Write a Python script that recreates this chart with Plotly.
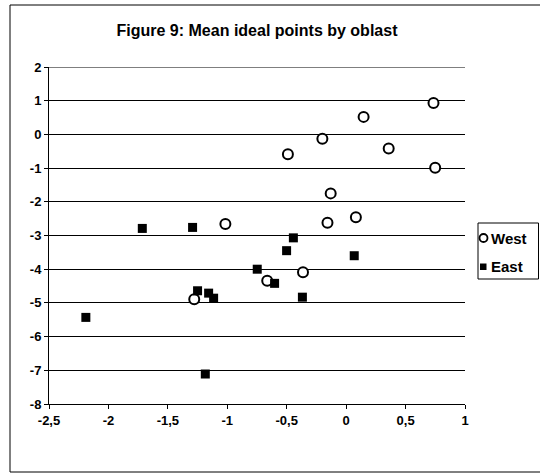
import plotly.graph_objects as go

west_x = [0.735, 0.147, -0.20, -0.49, 0.358, 0.749, -0.13, -0.157, 0.082, -1.016, -0.363, -1.278, -0.664]
west_y = [0.93, 0.52, -0.13, -0.59, -0.42, -0.99, -1.75, -2.62, -2.46, -2.66, -4.09, -4.89, -4.34]

east_x = [-1.715, -1.292, -0.444, -0.501, 0.068, -0.602, -0.368, -0.748, -1.25, -1.157, -1.115, -2.19, -1.185]
east_y = [-2.79, -2.76, -3.07, -3.45, -3.60, -4.42, -4.83, -4.00, -4.64, -4.71, -4.86, -5.43, -7.11]

series_names = ["West", "East"]

x_ticks = [-2.5, -2, -1.5, -1, -0.5, 0, 0.5, 1]
x_tick_labels = ["-2,5", "-2", "-1,5", "-1", "-0,5", "0", "0,5", "1"]
y_ticks = [2, 1, 0, -1, -2, -3, -4, -5, -6, -7, -8]

title = "Figure 9: Mean ideal points by oblast"

font_family = "Liberation Sans, Arial, sans-serif"

fig = go.Figure()
fig.add_trace(go.Scatter(
    x=west_x, y=west_y, mode="markers", name=series_names[0],
    marker=dict(symbol="circle", size=10, color="white", line=dict(color="black", width=2)),
))
fig.add_trace(go.Scatter(
    x=east_x, y=east_y, mode="markers", name=series_names[1],
    marker=dict(symbol="square", size=9, color="black", line=dict(color="black", width=0)),
))

W, H = 540, 474
L, R, T, B = 49, 75, 67, 70
pw, ph = W - L - R, H - T - B

def px_x(px):
    return (px - L) / pw

def px_y(py):
    return (H - B - py) / ph

bold = dict(family=font_family, weight=700, color="black")

shapes = [
    # outer chart frame
    dict(type="rect", xref="paper", yref="paper",
         x0=px_x(10), x1=px_x(548), y0=px_y(472), y1=px_y(5),
         line=dict(color="black", width=1), fillcolor="rgba(0,0,0,0)", layer="below"),
    # top gridline at y=2 (plotly omits grid at the range edge)
    dict(type="line", xref="paper", yref="y", x0=0, x1=1, y0=y_ticks[0], y1=y_ticks[0],
         line=dict(color="black", width=1), layer="below"),
    # legend box
    dict(type="rect", xref="paper", yref="paper",
         x0=px_x(478), x1=px_x(538.5), y0=px_y(279), y1=px_y(223),
         line=dict(color="black", width=1), fillcolor="white"),
    # legend symbols
    dict(type="circle", xref="paper", yref="paper",
         x0=px_x(479.5), x1=px_x(487.5), y0=px_y(242), y1=px_y(234),
         line=dict(color="black", width=1.8), fillcolor="white"),
    dict(type="rect", xref="paper", yref="paper",
         x0=px_x(480), x1=px_x(486.5), y0=px_y(270), y1=px_y(263.5),
         line=dict(color="black", width=0), fillcolor="black"),
]

annotations = [
    dict(text=series_names[0], xref="paper", yref="paper", x=px_x(488.5), y=px_y(238),
         xanchor="left", yanchor="middle", showarrow=False, font=dict(size=15, **bold)),
    dict(text=series_names[1], xref="paper", yref="paper", x=px_x(488.5), y=px_y(266),
         xanchor="left", yanchor="middle", showarrow=False, font=dict(size=15, **bold)),
]

fig.update_layout(
    width=W, height=H,
    margin=dict(l=L, r=R, t=T, b=B, autoexpand=False),
    paper_bgcolor="white", plot_bgcolor="white",
    font=dict(family=font_family, size=12, color="black", weight=700),
    title=dict(text=title, x=0.5, xref="paper", xanchor="center",
               y=1 - 30 / H, yanchor="middle", font=dict(size=16, **bold)),
    showlegend=False,
    xaxis=dict(range=[-2.5, 1], tickvals=x_ticks, ticktext=x_tick_labels,
               showgrid=False, zeroline=False, showline=True, linecolor="black", linewidth=1,
               ticks="outside", ticklen=4, tickcolor="black", tickfont=dict(size=13, **bold),
               automargin=False, fixedrange=True),
    yaxis=dict(range=[-8, 2], tickvals=y_ticks, ticktext=[str(v) for v in y_ticks],
               showgrid=True, gridcolor="black", gridwidth=1, zeroline=False,
               showline=True, linecolor="black", linewidth=1,
               ticks="outside", ticklen=4, tickcolor="black", tickfont=dict(size=13, **bold),
               automargin=False, fixedrange=True),
    shapes=shapes,
    annotations=annotations,
)

fig.write_html("out.html", config={"displayModeBar": False},
               post_script="document.body.style.margin='0';")
